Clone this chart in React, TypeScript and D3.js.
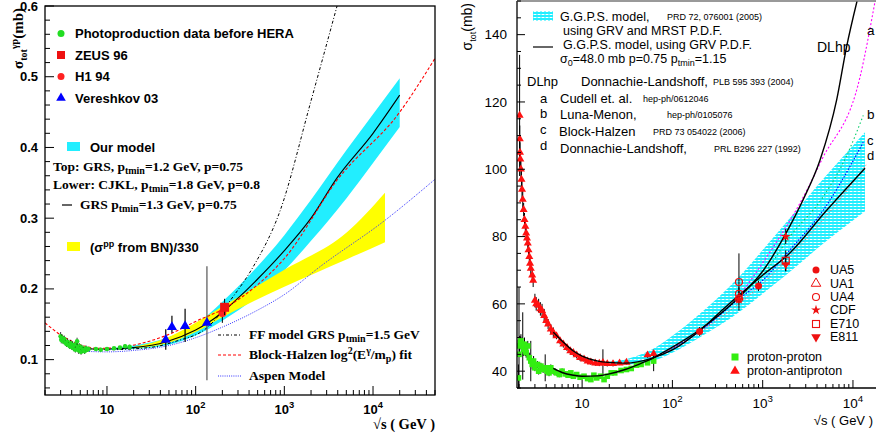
import React from "react";
import * as d3 from "d3";

// ================= LEFT PANEL DATA (gamma-p) =================
const photoS = [3.0, 3.05, 3.1, 3.2, 3.3, 3.4, 3.5, 3.6, 3.7, 3.8, 3.9, 4.0, 4.1, 4.2, 4.3, 4.4, 4.5, 4.6, 4.7, 4.8, 4.9, 5.0, 5.1, 5.2, 5.4, 5.6, 5.8, 6.0, 6.2, 7.5, 8.5, 10, 12, 14, 16, 18];
const photoSigma = [0.133, 0.128, 0.131, 0.126, 0.129, 0.124, 0.122, 0.125, 0.121, 0.119, 0.123, 0.118, 0.121, 0.116, 0.119, 0.114, 0.122, 0.126, 0.117, 0.113, 0.119, 0.115, 0.111, 0.117, 0.114, 0.112, 0.116, 0.114, 0.115, 0.115, 0.114, 0.115, 0.116, 0.117, 0.119, 0.118];
const photoErr = [0.006, 0.005, 0.005, 0.004, 0.005, 0.004, 0.004, 0.005, 0.004, 0.004, 0.005, 0.004, 0.005, 0.004, 0.004, 0.004, 0.005, 0.005, 0.004, 0.005, 0.004, 0.004, 0.004, 0.004, 0.004, 0.004, 0.004, 0.003, 0.003, 0.002, 0.002, 0.002, 0.002, 0.002, 0.003, 0.003];

const vereshkovS = [46, 54, 76, 134];
const vereshkovSigma = [0.128, 0.146, 0.1475, 0.152];
const vereshkovLo = [0.114, 0.138, 0.125, 0.071];
const vereshkovHi = [0.143, 0.162, 0.172, 0.232];

const zeusS = [212];
const zeusSigma = [0.174];
const zeusLo = [0.163];
const zeusHi = [0.186];

const h1S = [200];
const h1Sigma = [0.166];
const h1Lo = [0.152];
const h1Hi = [0.18];

const bandS = [10, 20, 50, 100, 200, 500, 1000, 2000, 5000, 10000, 20000];
const bandHi = [0.116, 0.12, 0.132, 0.15, 0.182, 0.232, 0.276, 0.326, 0.396, 0.447, 0.498];
const bandLo = [0.114, 0.115, 0.121, 0.134, 0.155, 0.19, 0.226, 0.268, 0.328, 0.378, 0.429];

const grsS = [5, 7, 10, 20, 46, 100, 134, 200, 278, 500, 966, 2000, 3930, 10000, 20000];
const grsSigma = [0.117, 0.115, 0.115, 0.117, 0.125, 0.142, 0.151, 0.167, 0.183, 0.214, 0.252, 0.3, 0.357, 0.42, 0.474];

const bnS = [20, 50, 100, 200, 410, 1000, 5080, 13650];
const bnHi = [0.118, 0.132, 0.152, 0.175, 0.198, 0.227, 0.28, 0.336];
const bnLo = [0.116, 0.124, 0.139, 0.16, 0.18, 0.203, 0.242, 0.266];

const ffS = [5, 10, 30, 60, 134, 264, 444, 893, 2000, 3930];
const ffSigma = [0.117, 0.114, 0.117, 0.126, 0.145, 0.189, 0.231, 0.31, 0.466, 0.6];

const bhS = [2, 3, 5, 8, 15, 30, 60, 100, 200, 500, 1000, 4000, 20000, 50000];
const bhSigma = [0.152, 0.135, 0.121, 0.116, 0.118, 0.126, 0.14, 0.154, 0.171, 0.206, 0.243, 0.355, 0.45, 0.526];

const aspenS = [5, 10, 20, 50, 100, 200, 500, 1000, 2500, 13650, 50000];
const aspenSigma = [0.112, 0.111, 0.113, 0.12, 0.131, 0.146, 0.17, 0.192, 0.231, 0.297, 0.355];

const leftYTicks = [0.1, 0.2, 0.3, 0.4, 0.5, 0.6];

// ================= RIGHT PANEL DATA (pp / pbar-p) =================
const ppS = [1.97, 2.0, 2.03, 2.06, 2.1, 2.15, 2.2, 2.25, 2.3, 2.35, 2.4, 2.5, 2.6, 2.7, 2.8, 2.9, 3.0, 3.2, 3.3, 3.5, 3.7, 3.9, 4.1, 4.3, 4.5, 4.8, 5.2, 5.6, 6.0, 6.5, 7.0, 7.5, 8.0, 8.7, 9.5, 10.5, 11.5, 12.5, 13.5, 14.5, 16, 17.5, 19, 21, 23, 27, 31, 35, 40, 45, 53, 62];
const ppSigma = [38, 45, 47.5, 48.5, 49, 48, 47.5, 46.5, 48, 46, 45.5, 47.5, 44, 43, 42, 43, 41, 42, 40, 41.5, 40.5, 41, 40, 39.5, 41, 40, 39.5, 39, 40, 39.2, 38.8, 39.5, 38.5, 39, 38.2, 38.5, 37.8, 37.5, 38.8, 38, 38.5, 37.5, 38.5, 39.5, 39.5, 40.2, 40.5, 40.8, 41.8, 42, 42.5, 43];
const ppErr = [4, 20, 3, 2, 2, 2, 10, 2, 2, 1.5, 1.5, 1.5, 1.5, 6, 1.5, 1.5, 1, 1, 1, 1, 1, 4, 1, 1, 1, 1, 0.8, 0.8, 0.8, 0.8, 0.6, 0.6, 0.6, 0.6, 0.6, 0.5, 0.5, 0.5, 0.5, 0.5, 0.5, 0.5, 0.5, 0.5, 0.4, 0.4, 0.4, 0.4, 0.5, 0.5, 0.5, 3];

const pbarS = [2.03, 2.04, 2.05, 2.07, 2.1, 2.13, 2.16, 2.2, 2.25, 2.3, 2.35, 2.4, 2.45, 2.5, 2.55, 2.6, 2.65, 2.7, 2.8, 2.87, 3.0, 3.1, 3.3, 3.45, 3.6, 3.8, 4.0, 4.2, 4.5, 4.8, 5.2, 5.7, 6.2, 6.8, 7.4, 8, 8.7, 9.5, 10.5, 11.5, 12.5, 14, 15.5, 17, 19, 22, 26, 31, 53, 62];
const pbarSigma = [116, 109, 105, 103, 100, 97, 94, 91, 88, 85, 83, 81, 79.5, 78, 76, 74, 72, 70.5, 68.5, 67, 61, 60, 59.5, 58.5, 58, 56.5, 55, 54, 52.5, 51.5, 50.5, 49, 48, 47, 46, 45.5, 44.8, 44, 43.6, 43, 42.7, 42.4, 42.3, 42.5, 42.2, 42.2, 42.4, 42.6, 44.8, 45.2];
const pbarErr = [18, 4, 3, 3, 3, 3, 3, 3, 2, 2, 2, 2, 2, 2, 2, 2, 2, 2, 2, 2, 2, 2, 2, 2, 2, 2, 1.5, 1.5, 1.5, 1.5, 1, 1, 1, 1, 1, 1, 1, 1, 0.8, 0.8, 0.8, 0.8, 0.8, 4, 0.8, 0.8, 0.6, 0.6, 0.8, 1];

const ua5S = [200, 900];
const ua5Sigma = [51.8, 65.3];
const ua5Err = [1.3, 1.5];
const ua1S = [546];
const ua1Sigma = [61.9];
const ua1Err = [1.5];
const ua4S = [546, 546, 546];
const ua4Sigma = [66.5, 63.0, 61.5];
const ua4Err = [8.5, 2.0, 1.0];
const cdfS = [546, 1800];
const cdfSigma = [61.3, 80.0];
const cdfErr = [0.9, 2.2];
const e710S = [1800];
const e710Sigma = [72.8];
const e710Err = [3.1];
const e811S = [1800];
const e811Sigma = [71.7];
const e811Err = [2.0];

const rbS = [20, 30, 60, 100, 200, 546, 1000, 1800, 5000, 13600];
const rbLo = [42, 42, 43, 45.5, 50, 57.5, 63, 68.5, 78.5, 87.5];
const rbHi = [42.8, 43.5, 46.5, 50.5, 57, 68, 76, 84, 98, 111];

const ggpsPbarS = [4.8, 6, 8, 10, 15, 20, 30, 60, 100, 200, 367, 1000, 2000, 5000, 13600];
const ggpsPbarSigma = [51.6, 49, 46, 44.5, 43, 42.6, 42.4, 43.9, 46.3, 52, 58.5, 68.5, 75.1, 87.5, 100.3];
const ggpsPpS = [4.8, 6, 8, 10, 15, 20, 30, 45, 60];
const ggpsPpSigma = [40.8, 39.6, 38.8, 38.5, 38.6, 39.2, 40.5, 42.3, 43.7];

const dlhpS = [60, 200, 546, 1020, 1770, 2800, 4330, 6600, 8500, 11100];
const dlhpSigma = [43.8, 52.3, 62, 70, 80.5, 90.9, 102.8, 120.6, 136.4, 150];
const aS = [60, 200, 546, 1110, 3090, 4510, 12000, 17600];
const aSigma = [43.8, 52, 62.5, 74, 93.8, 102.8, 127.5, 150];
const bS = [60, 200, 546, 1000, 2000, 4700, 8500, 13000];
const bSigma = [43.8, 52, 62, 68.5, 80, 91.9, 104, 116];
const cS = [60, 200, 546, 1000, 2000, 4700, 13000];
const cSigma = [43.8, 51.8, 61.5, 67, 76, 87.9, 108];
const dS = [60, 200, 546, 1000, 1800, 5000, 14000];
const dSigma = [43.6, 51.6, 60.1, 66, 72.9, 85.9, 101.3];

const rightYTicks = [40, 60, 80, 100, 120, 140];

// ================= HELPERS =================
const SANS = "'Liberation Sans', Arial, Helvetica, sans-serif";
const SERIF = "'Liberation Serif', 'Times New Roman', serif";

function logTicks(lo: number, hi: number) {
  const out: { v: number; major: boolean }[] = [];
  for (let e = 0; e <= 5; e++)
    for (let k = 1; k < 10; k++) {
      const v = k * Math.pow(10, e);
      if (v >= lo && v <= hi) out.push({ v, major: k === 1 });
    }
  return out;
}

function zip(xs: number[], ys: number[]) {
  return xs.map((x, i) => [x, ys[i]] as [number, number]);
}

function areaPath(xs: number[], lo: number[], hi: number[], x: any, y: any) {
  const a = d3
    .area<number>()
    .x((_, i) => x(xs[i]))
    .y0((_, i) => y(lo[i]))
    .y1((_, i) => y(hi[i]))
    .curve(d3.curveMonotoneX);
  return a(xs.map((_, i) => i)) || "";
}

function linePath(xs: number[], ys: number[], x: any, y: any) {
  const l = d3
    .line<[number, number]>()
    .x((d) => x(d[0]))
    .y((d) => y(d[1]))
    .curve(d3.curveMonotoneX);
  return l(zip(xs, ys)) || "";
}

function Pow10({ e }: { e: number }) {
  return (
    <>
      10<tspan dy={-6} fontSize="0.72em">{e}</tspan>
    </>
  );
}

// ================= LEFT PANEL =================
function LeftPanel() {
  const x = d3.scaleLog().domain([2, 5e4]).range([45, 435]);
  const y = d3.scaleLinear().domain([0.05, 0.6]).range([395, 6]);
  const [x0, x1] = x.range();
  const [yb, yt] = y.range();
  const xt = logTicks(2, 5e4);
  const minorY = d3.range(0.06, 0.6001, 0.02);
  const tri = d3.symbol().type(d3.symbolTriangle).size(45)() || "";
  const legTri = d3.symbol().type(d3.symbolTriangle).size(40)() || "";

  return (
    <g>
      <defs>
        <clipPath id="clipL">
          <rect x={x0} y={yt} width={x1 - x0} height={yb - yt} />
        </clipPath>
      </defs>
      <g clipPath="url(#clipL)">
        <path d={areaPath(bandS, bandLo, bandHi, x, y)} fill="#22eeff" stroke="none" />
        <path d={areaPath(bnS, bnLo, bnHi, x, y)} fill="#ffff00" stroke="none" />
        <path d={linePath(grsS, grsSigma, x, y)} fill="none" stroke="#000" strokeWidth={1.1} />
        <path d={linePath(ffS, ffSigma, x, y)} fill="none" stroke="#000" strokeWidth={1} strokeDasharray="3,2,1,2" />
        <path d={linePath(bhS, bhSigma, x, y)} fill="none" stroke="#ff0000" strokeWidth={1.1} strokeDasharray="3,2" />
        <path d={linePath(aspenS, aspenSigma, x, y)} fill="none" stroke="#3333ff" strokeWidth={1} strokeDasharray="1,1.2" />
        {photoS.map((s, i) => (
          <g key={"p" + i}>
            <line x1={x(s)} x2={x(s)} y1={y(photoSigma[i] - photoErr[i])} y2={y(photoSigma[i] + photoErr[i])} stroke="#000" strokeWidth={0.8} />
            <circle cx={x(s)} cy={y(photoSigma[i])} r={2.3} fill="#22dd22" />
          </g>
        ))}
        {vereshkovS.map((s, i) => (
          <g key={"v" + i}>
            <line x1={x(s)} x2={x(s)} y1={y(vereshkovLo[i])} y2={y(vereshkovHi[i])} stroke={i === 3 ? "#555" : "#000"} strokeWidth={1.2} />
            <path d={tri} transform={`translate(${x(s)},${y(vereshkovSigma[i])})`} fill="#0000ff" />
          </g>
        ))}
        {h1S.map((s, i) => (
          <g key={"h" + i}>
            <line x1={x(s)} x2={x(s)} y1={y(h1Lo[i])} y2={y(h1Hi[i])} stroke="#000" strokeWidth={1} />
            <circle cx={x(s)} cy={y(h1Sigma[i])} r={4} fill="#ff2222" />
          </g>
        ))}
        {zeusS.map((s, i) => (
          <g key={"z" + i}>
            <line x1={x(s)} x2={x(s)} y1={y(zeusLo[i])} y2={y(zeusHi[i])} stroke="#000" strokeWidth={1} />
            <rect x={x(s) - 4.5} y={y(zeusSigma[i]) - 4.5} width={9} height={9} fill="#ee1111" />
          </g>
        ))}
      </g>
      <rect x={x0} y={yt} width={x1 - x0} height={yb - yt} fill="none" stroke="#000" strokeWidth={1.3} />
      {xt.map((t, i) => (
        <line key={"xt" + i} x1={x(t.v)} x2={x(t.v)} y1={yb} y2={yb - (t.major ? 9 : 5)} stroke="#000" strokeWidth={1} />
      ))}
      {minorY.map((v, i) => {
        const major = Math.abs(v * 10 - Math.round(v * 10)) < 1e-6;
        return <line key={"yt" + i} x1={x0} x2={x0 + (major ? 9 : 5)} y1={y(v)} y2={y(v)} stroke="#000" strokeWidth={1} />;
      })}
      <g fontFamily={SANS} fontWeight="bold" fontSize={13} fill="#000">
        {leftYTicks.map((v) => (
          <text key={"yl" + v} x={38} y={y(v)} dy="0.35em" textAnchor="end">
            {v.toFixed(1)}
          </text>
        ))}
        <text x={x(10)} y={414} textAnchor="middle">10</text>
        <text x={x(100)} y={414} textAnchor="middle"><Pow10 e={2} /></text>
        <text x={x(1000)} y={414} textAnchor="middle"><Pow10 e={3} /></text>
        <text x={x(10000)} y={414} textAnchor="middle"><Pow10 e={4} /></text>
      </g>
      <text x={435} y={429} textAnchor="end" fontFamily={SERIF} fontWeight="bold" fontSize={14.5}>
        √s ( GeV )
      </text>
      <text transform="translate(23,8) rotate(-90)" textAnchor="end" fontFamily={SERIF} fontWeight="bold" fontSize={15}>
        σ<tspan dy={4} fontSize={10}>tot</tspan>
        <tspan dy={-9} fontSize={10}>γp</tspan>
        <tspan dy={5}>(mb)</tspan>
      </text>
      <g fontFamily={SANS} fontWeight="bold" fontSize={13}>
        <circle cx={61} cy={33.5} r={3.5} fill="#22dd22" />
        <text x={75} y={33.5} dy="0.35em">Photoproduction data before HERA</text>
        <rect x={57} y={51} width={8} height={8} fill="#ee1111" />
        <text x={75} y={55} dy="0.35em">ZEUS 96</text>
        <circle cx={61} cy={76.5} r={3.5} fill="#ff2222" />
        <text x={75} y={76.5} dy="0.35em">H1 94</text>
        <path d={legTri} transform="translate(61,98)" fill="#0000ff" />
        <text x={75} y={98} dy="0.35em">Vereshkov 03</text>
        <rect x={67} y={142} width={13} height={9} fill="#22eeff" />
        <text x={90} y={147} dy="0.35em">Our model</text>
        <rect x={67} y={242} width={13} height={9} fill="#ffff00" />
        <text x={90} y={247} dy="0.35em">
          (σ<tspan dy={-5} fontSize={9}>pp</tspan>
          <tspan dy={5}> from BN)/330</tspan>
        </text>
      </g>
      <g fontFamily={SERIF} fontWeight="bold" fontSize={13.5}>
        <text x={53} y={171}>
          Top: GRS, p<tspan dy={3} fontSize={10}>tmin</tspan>
          <tspan dy={-3}>=1.2 GeV, p=0.75</tspan>
        </text>
        <text x={53} y={189}>
          Lower: CJKL, p<tspan dy={3} fontSize={10}>tmin</tspan>
          <tspan dy={-3}>=1.8 GeV, p=0.8</tspan>
        </text>
        <line x1={62} x2={72} y1={205} y2={205} stroke="#000" strokeWidth={1.2} />
        <text x={80} y={209}>
          GRS p<tspan dy={3} fontSize={10}>tmin</tspan>
          <tspan dy={-3}>=1.3 GeV, p=0.75</tspan>
        </text>
        <line x1={218} x2={241} y1={335} y2={335} stroke="#000" strokeWidth={1} strokeDasharray="3,2,1,2" />
        <text x={249} y={339}>
          FF model GRS p<tspan dy={3} fontSize={10}>tmin</tspan>
          <tspan dy={-3}>=1.5 GeV</tspan>
        </text>
        <line x1={218} x2={241} y1={355} y2={355} stroke="#ff0000" strokeWidth={1} strokeDasharray="3,2" />
        <text x={249} y={359}>
          Block-Halzen log<tspan dy={-5} fontSize={10}>2</tspan>
          <tspan dy={5}>(E</tspan>
          <tspan dy={-5} fontSize={10}>γ</tspan>
          <tspan dy={5}>/m</tspan>
          <tspan dy={3} fontSize={10}>p</tspan>
          <tspan dy={-3}>) fit</tspan>
        </text>
        <line x1={218} x2={241} y1={376} y2={376} stroke="#3333ff" strokeWidth={1} strokeDasharray="1,1.2" />
        <text x={249} y={380}>Aspen Model</text>
      </g>
    </g>
  );
}

// ================= RIGHT PANEL =================
function RightPanel() {
  const x = d3.scaleLog().domain([1.9, 1.8e4]).range([517, 876]);
  const y = d3.scaleLinear().domain([35, 150]).range([388, 1]);
  const [x0, x1] = x.range();
  const [yb, yt] = y.range();
  const xt = logTicks(1.9, 1.8e4);
  const minorY = d3.range(35, 150.01, 5);
  const tri = d3.symbol().type(d3.symbolTriangle).size(28)() || "";
  const legTri = d3.symbol().type(d3.symbolTriangle).size(40)() || "";
  const star = d3.symbol().type(d3.symbolStar).size(30)() || "";

  const err = (xs: number[], ys: number[], es: number[], k: string, color = "#000") =>
    xs.map((s, i) => (
      <line key={k + i} x1={x(s)} x2={x(s)} y1={y(ys[i] - es[i])} y2={y(ys[i] + es[i])} stroke={color} strokeWidth={1} />
    ));

  return (
    <g>
      <defs>
        <clipPath id="clipR">
          <rect x={x0} y={yt} width={x1 - x0} height={yb - yt} />
        </clipPath>
        <pattern id="hatch" width={4} height={3} patternUnits="userSpaceOnUse">
          <rect width={4} height={3} fill="#ffffff" />
          <rect width={4} height={2} fill="#22eeff" />
          <rect x={0} y={2} width={2} height={1} fill="#88f6ff" />
        </pattern>
      </defs>
      <g clipPath="url(#clipR)">
        <path d={areaPath(rbS, rbLo, rbHi, x, y)} fill="url(#hatch)" stroke="none" />
        <path d={linePath(aS, aSigma, x, y)} fill="none" stroke="#ff00ff" strokeWidth={1.1} strokeDasharray="2,2" />
        <path d={linePath(bS, bSigma, x, y)} fill="none" stroke="#00cc66" strokeWidth={1.1} strokeDasharray="1.5,2.5" />
        <path d={linePath(cS, cSigma, x, y)} fill="none" stroke="#0000ff" strokeWidth={1.1} strokeDasharray="1.5,1.5" />
        <path d={linePath(dS, dSigma, x, y)} fill="none" stroke="#ff5555" strokeWidth={1} strokeDasharray="1,2" />
        {err(ppS, ppSigma, ppErr, "ppe")}
        {err(pbarS, pbarSigma, pbarErr, "pbe")}
        {ppS.map((s, i) => (
          <rect key={"pp" + i} x={x(s) - 2.8} y={y(ppSigma[i]) - 2.8} width={5.6} height={5.6} fill="#33ee11" />
        ))}
        {pbarS.map((s, i) => (
          <path key={"pb" + i} d={tri} transform={`translate(${x(s)},${y(pbarSigma[i])})`} fill="#ff1111" />
        ))}
        <path d={linePath(ggpsPpS, ggpsPpSigma, x, y)} fill="none" stroke="#000" strokeWidth={1.4} />
        <path d={linePath(ggpsPbarS, ggpsPbarSigma, x, y)} fill="none" stroke="#000" strokeWidth={1.4} />
        <path d={linePath(dlhpS, dlhpSigma, x, y)} fill="none" stroke="#000" strokeWidth={1.4} />
        {err(ua4S, ua4Sigma, ua4Err, "ua4e")}
        {err(ua5S, ua5Sigma, ua5Err, "ua5e")}
        {err(ua1S, ua1Sigma, ua1Err, "ua1e")}
        {err(cdfS, cdfSigma, cdfErr, "cdfe")}
        {err(e710S, e710Sigma, e710Err, "e710e")}
        {err(e811S, e811Sigma, e811Err, "e811e")}
        {ua5S.map((s, i) => (
          <circle key={"ua5" + i} cx={x(s)} cy={y(ua5Sigma[i])} r={3.5} fill="#ee1111" />
        ))}
        {ua1S.map((s, i) => (
          <path key={"ua1" + i} d={tri} transform={`translate(${x(s)},${y(ua1Sigma[i])})`} fill="none" stroke="#ee1111" strokeWidth={1} />
        ))}
        {ua4S.map((s, i) => (
          <circle key={"ua4" + i} cx={x(s)} cy={y(ua4Sigma[i])} r={3.5} fill="none" stroke="#ee1111" strokeWidth={1.2} />
        ))}
        {cdfS.map((s, i) => (
          <path key={"cdf" + i} d={star} transform={`translate(${x(s)},${y(cdfSigma[i])})`} fill="#ee1111" />
        ))}
        {e710S.map((s, i) => (
          <rect key={"e710" + i} x={x(s) - 3.5} y={y(e710Sigma[i]) - 3.5} width={7} height={7} fill="none" stroke="#ee1111" strokeWidth={1.2} />
        ))}
        {e811S.map((s, i) => (
          <path key={"e811" + i} d={tri} transform={`translate(${x(s)},${y(e811Sigma[i])}) rotate(180)`} fill="#ee1111" />
        ))}
      </g>
      <line x1={x0} x2={x0} y1={yt} y2={yb} stroke="#000" strokeWidth={1.3} />
      <line x1={x0} x2={x1} y1={yb} y2={yb} stroke="#000" strokeWidth={1.3} />
      <line x1={x0} x2={x1} y1={yt} y2={yt} stroke="#777" strokeWidth={1.5} />
      {xt.map((t, i) => (
        <line key={"xt" + i} x1={x(t.v)} x2={x(t.v)} y1={yb} y2={yb - (t.major ? 8 : 4)} stroke="#000" strokeWidth={1} />
      ))}
      {minorY.map((v, i) => {
        const major = v % 20 === 0;
        return <line key={"yt" + i} x1={x0} x2={x0 + (major ? 8 : 4)} y1={y(v)} y2={y(v)} stroke="#000" strokeWidth={1} />;
      })}
      <g fontFamily={SANS} fontSize={13.5} fill="#000">
        {rightYTicks.map((v) => (
          <text key={"yl" + v} x={507} y={y(v)} dy="0.35em" textAnchor="end">
            {v}
          </text>
        ))}
        <text x={x(10)} y={408} textAnchor="middle">10</text>
        <text x={x(100)} y={408} textAnchor="middle"><Pow10 e={2} /></text>
        <text x={x(1000)} y={408} textAnchor="middle"><Pow10 e={3} /></text>
        <text x={x(10000)} y={408} textAnchor="middle"><Pow10 e={4} /></text>
        <text x={873} y={425} textAnchor="end" fontSize={13}>√s ( GeV )</text>
        <text transform="translate(472,3) rotate(-90)" textAnchor="end" fontSize={14}>
          σ<tspan dy={4} fontSize={9}>tot</tspan>
          <tspan dy={-4}>(mb)</tspan>
        </text>
      </g>
      <g fontFamily={SANS} fontSize={12.5} fill="#000">
        <rect x={533} y={11} width={20} height={10} fill="url(#hatch)" />
        <text x={560} y={16.5} dy="0.35em">G.G.P.S. model,</text>
        <text x={667} y={17} dy="0.35em" fontSize={9}>PRD 72, 076001 (2005)</text>
        <text x={563} y={30.5} dy="0.35em">using GRV and MRST P.D.F.</text>
        <line x1={533} x2={553} y1={47} y2={47} stroke="#000" strokeWidth={1.2} />
        <text x={563} y={44.5} dy="0.35em">G.G.P.S. model, using GRV P.D.F.</text>
        <text x={560} y={58.5} dy="0.35em">
          σ<tspan dy={3} fontSize={9}>0</tspan>
          <tspan dy={-3}>=48.0 mb p=0.75 p</tspan>
          <tspan dy={3} fontSize={9}>tmin</tspan>
          <tspan dy={-3}>=1.15</tspan>
        </text>
      </g>
      <g fontFamily={SANS} fontSize={13} fill="#000">
        <text x={527} y={81} dy="0.35em">DLhp</text>
        <text x={581} y={81} dy="0.35em">Donnachie-Landshoff,</text>
        <text x={713} y={82} dy="0.35em" fontSize={9}>PLB 595 393 (2004)</text>
        <text x={540} y={98} dy="0.35em">a</text>
        <text x={560} y={98} dy="0.35em">Cudell et. al.</text>
        <text x={643} y={99} dy="0.35em" fontSize={9}>hep-ph/0612046</text>
        <text x={540} y={113} dy="0.35em">b</text>
        <text x={560} y={114} dy="0.35em">Luna-Menon,</text>
        <text x={667} y={115} dy="0.35em" fontSize={9}>hep-ph/0105076</text>
        <text x={540} y={129} dy="0.35em">c</text>
        <text x={559} y={131} dy="0.35em">Block-Halzen</text>
        <text x={653} y={132} dy="0.35em" fontSize={9}>PRD 73 054022 (2006)</text>
        <text x={540} y={145} dy="0.35em">d</text>
        <text x={560} y={148} dy="0.35em">Donnachie-Landshoff,</text>
        <text x={714} y={149} dy="0.35em" fontSize={9}>PRL B296 227 (1992)</text>
        <text x={817} y={47} dy="0.35em" fontSize={14}>DLhp</text>
        <text x={867} y={30} dy="0.35em" fontSize={13.5}>a</text>
        <text x={867} y={114} dy="0.35em" fontSize={13.5}>b</text>
        <text x={867} y={140} dy="0.35em" fontSize={13}>c</text>
        <text x={867} y={155} dy="0.35em" fontSize={13}>d</text>
      </g>
      <g fontFamily={SANS} fontSize={12.5} fill="#000">
        <circle cx={816} cy={270} r={3.5} fill="#ee1111" />
        <text x={830} y={270} dy="0.35em">UA5</text>
        <path d={legTri} transform="translate(816,283.5)" fill="none" stroke="#ee1111" strokeWidth={1} />
        <text x={830} y={283.5} dy="0.35em">UA1</text>
        <circle cx={816} cy={297} r={3.5} fill="none" stroke="#ee1111" strokeWidth={1.1} />
        <text x={830} y={297} dy="0.35em">UA4</text>
        <path d={star} transform="translate(816,310)" fill="#ee1111" />
        <text x={830} y={310} dy="0.35em">CDF</text>
        <rect x={812.5} y={320.5} width={7} height={7} fill="none" stroke="#ee1111" strokeWidth={1.1} />
        <text x={830} y={324} dy="0.35em">E710</text>
        <path d={legTri} transform="translate(816,337) rotate(180)" fill="#ee1111" />
        <text x={830} y={337} dy="0.35em">E811</text>
        <rect x={731.5} y={353.5} width={7} height={7} fill="#33ee11" />
        <text x={747} y={357} dy="0.35em">proton-proton</text>
        <path d={legTri} transform="translate(735,371)" fill="#ff1111" />
        <text x={747} y={371} dy="0.35em">proton-antiproton</text>
      </g>
    </g>
  );
}

export default function App() {
  return (
    <svg width={876} height={436} viewBox="0 0 876 436" style={{ position: "absolute", left: 0, top: 0, background: "#fff" }}>
      <rect width={876} height={436} fill="#fff" />
      <LeftPanel />
      <RightPanel />
    </svg>
  );
}
